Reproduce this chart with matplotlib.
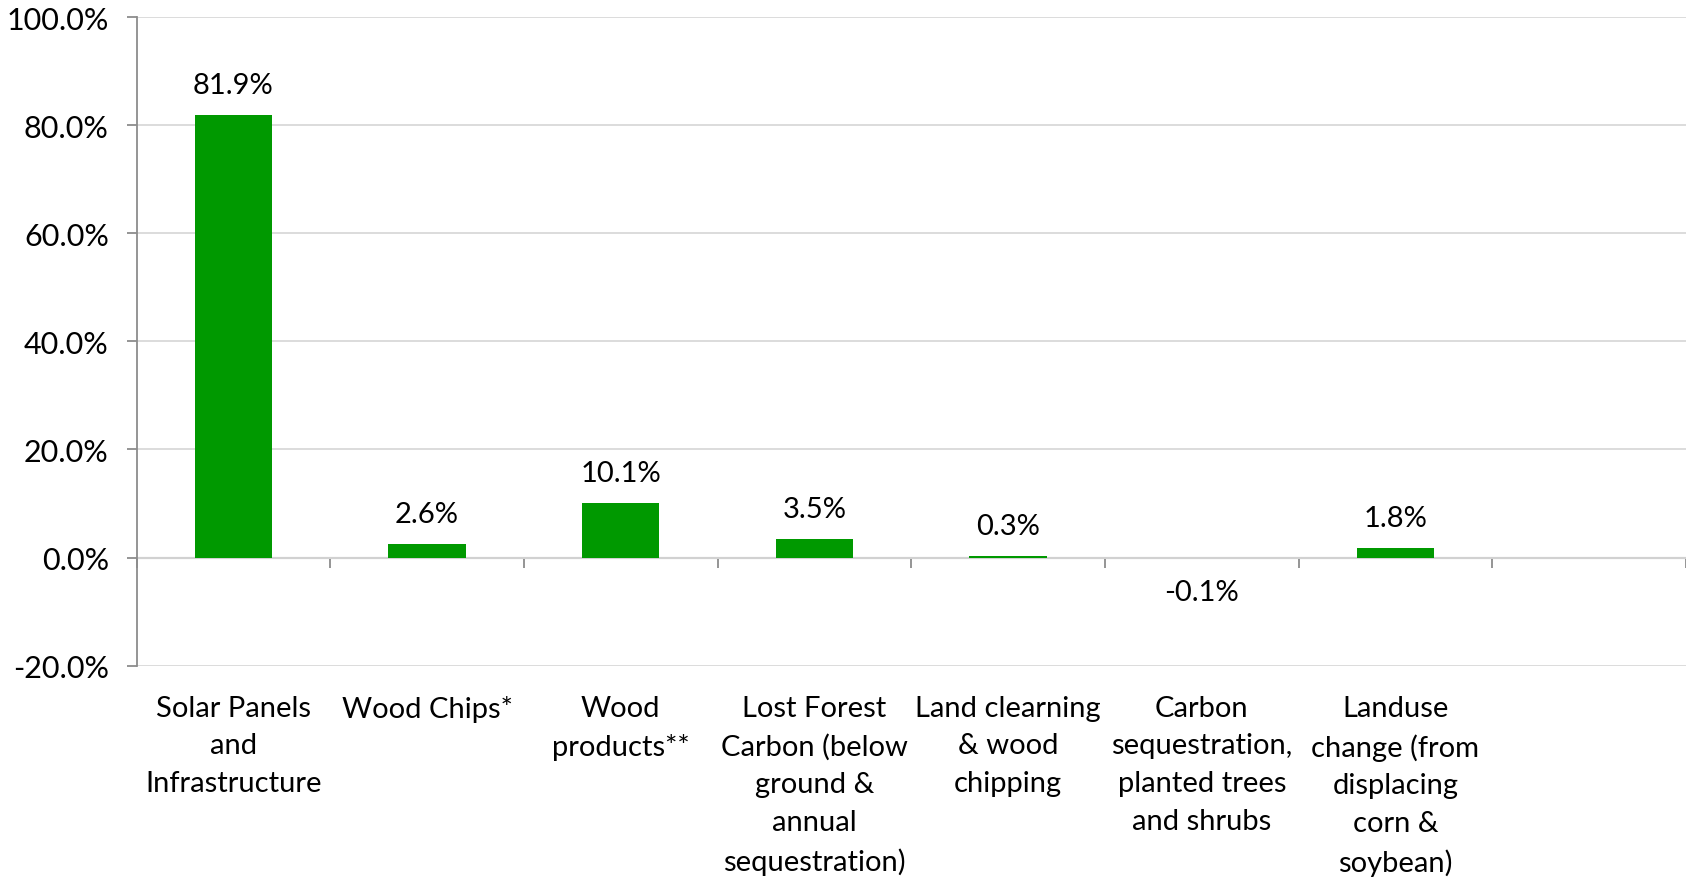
import matplotlib
matplotlib.use("Agg")
import matplotlib.pyplot as plt
import numpy as np
from matplotlib.ticker import FuncFormatter

# ==========================================================
# DADOS
# ==========================================================
categories = [
    "Solar Panels\nand\nInfrastructure",
    "Wood Chips*",
    "Wood\nproducts**",
    "Lost Forest\nCarbon (below\nground &\nannual\nsequestration)",
    "Land clearning\n& wood\nchipping",
    "Carbon\nsequestration,\nplanted trees\nand shrubs",
    "Landuse\nchange (from\ndisplacing\ncorn &\nsoybean)",
    "",
]
values = [81.9, 2.6, 10.1, 3.5, 0.3, -0.1, 1.8, np.nan]
value_labels = ["81.9%", "2.6%", "10.1%", "3.5%", "0.3%", "-0.1%", "1.8%", ""]
yticks = [-20, 0, 20, 40, 60, 80, 100]

bar_color = "#009900"
axis_color = "#8c8c8c"
grid_color = "#d9d9d9"
fs = 21

plt.rcParams["font.family"] = ["Lato", "DejaVu Sans"]

# ==========================================================
# FIGURA
# ==========================================================
fig = plt.figure(figsize=(16.86, 8.79), dpi=100)
ax = fig.add_axes([0.081, 0.2415, 0.919, 0.738])

x = np.arange(len(categories))
ax.bar(x, values, width=0.4, color=bar_color, zorder=3)

ax.set_xlim(-0.5, len(categories) - 0.5)
ax.set_ylim(-20, 100)
ax.set_yticks(yticks)
ax.yaxis.set_major_formatter(FuncFormatter(lambda v, p: f"{v:.1f}%"))
ax.grid(axis="y", color=grid_color, linewidth=1.3, zorder=0)

for side in ["top", "right", "bottom"]:
    ax.spines[side].set_visible(False)
ax.spines["left"].set_color(axis_color)
ax.spines["left"].set_linewidth(1.3)

ax.tick_params(axis="y", colors=axis_color, labelcolor="black",
               labelsize=22, length=7, width=1.3, pad=13)

# rótulos das categorias abaixo da área
ax.set_xticks(x)
ax.set_xticklabels(categories, fontsize=fs, linespacing=1.55, va="top")
ax.tick_params(axis="x", length=0, pad=21)

# eixo horizontal em zero com marcas entre categorias
sec = ax.secondary_xaxis(20 / 120)
sec.set_xticks(np.arange(len(categories) + 1) - 0.5)
sec.set_xticklabels([])
sec.spines["bottom"].set_color(axis_color)
sec.spines["bottom"].set_linewidth(1.5)
sec.tick_params(axis="x", colors=axis_color, length=7, width=1.3,
                direction="out")

# rótulos de valor
for xi, v, lab in zip(x, values, value_labels):
    if np.isnan(v):
        continue
    off = 30 if v >= 0 else -34
    ax.annotate(lab, (xi, v), xytext=(0, off), textcoords="offset pixels",
                ha="center", va="center", fontsize=fs)

fig.savefig("out.png", dpi=100)
